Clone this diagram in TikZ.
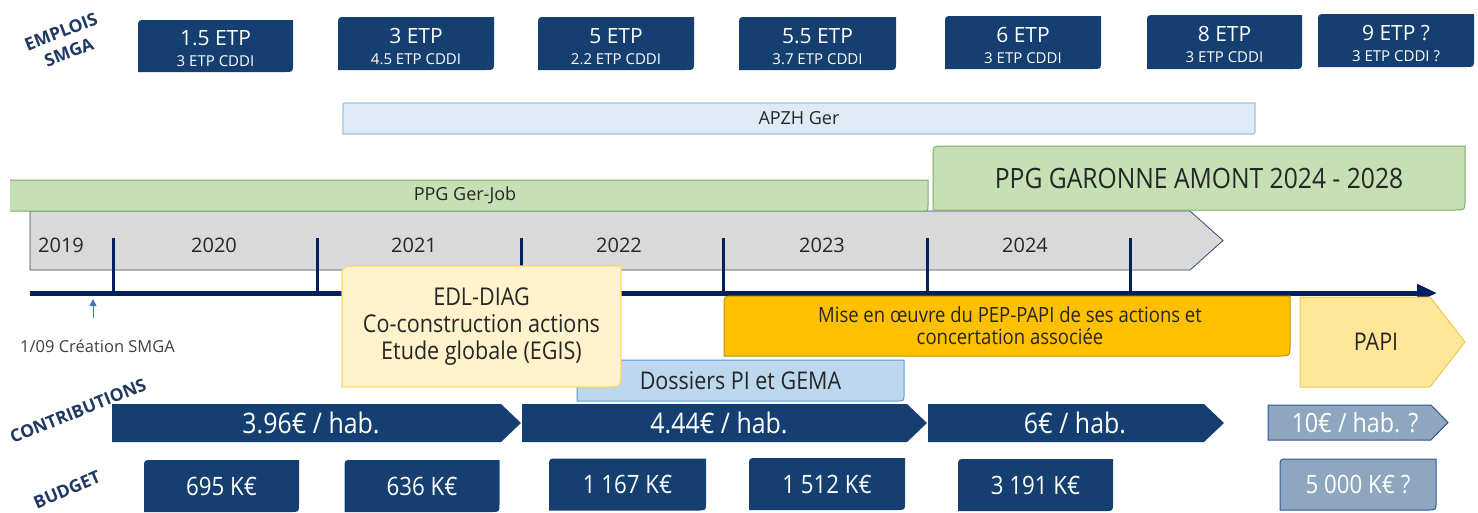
\documentclass[tikz,border=0pt]{standalone}
\usepackage{fontspec}
\setmainfont{Open Sans}
\newfontfamily\condf[FakeStretch=0.88]{Open Sans}
\usetikzlibrary{calc,arrows.meta}
\pgfdeclarelayer{bg}
\pgfsetlayers{bg,main}
\definecolor{navy}{RGB}{21,63,112}
\definecolor{labc}{RGB}{31,56,100}
\definecolor{axisc}{RGB}{0,32,96}
\definecolor{greyf}{RGB}{217,217,217}
\definecolor{greyb}{RGB}{52,75,110}
\definecolor{greenf}{RGB}{197,224,180}
\definecolor{greenb}{RGB}{130,168,100}
\definecolor{lbluef}{RGB}{222,235,247}
\definecolor{lblueb}{RGB}{157,195,230}
\definecolor{dblf}{RGB}{189,215,238}
\definecolor{dblb}{RGB}{91,155,213}
\definecolor{edlf}{RGB}{255,242,204}
\definecolor{edlb}{RGB}{255,217,102}
\definecolor{misef}{RGB}{255,192,0}
\definecolor{miseb}{RGB}{191,144,0}
\definecolor{papif}{RGB}{255,230,153}
\definecolor{papib}{RGB}{240,200,80}
\definecolor{fadef}{RGB}{143,166,191}
\definecolor{fadeb}{RGB}{47,85,151}
\definecolor{ytext}{RGB}{38,38,38}
\definecolor{smalltext}{RGB}{64,64,64}
\definecolor{smallarrow}{RGB}{68,114,196}
\newcommand\setfs[1]{\fontsize{#1pt}{#1pt}\selectfont}
\newcommand\setfsb[2]{\fontsize{#1pt}{#2pt}\selectfont}
\newcommand\dshape[3]{%
 \begin{pgfonlayer}{bg}
 \path[#1] (#2.south west) -- ($(#2.north west)+(0,#3)$) .. controls (#2.north west) .. ($(#2.north west)+(#3,0)$) -- (#2.north east) -- ($(#2.south east)+(0,-#3)$) .. controls (#2.south east) .. ($(#2.south east)+(-#3,0)$) -- cycle;
 \end{pgfonlayer}}
\newcommand\chev[3]{%
 \begin{pgfonlayer}{bg}
 \path[#1] (#2.north west) -- ($(#2.north east)+(-#3,0)$) -- (#2.east) -- ($(#2.south east)+(-#3,0)$) -- (#2.south west) -- cycle;
 \end{pgfonlayer}}
\tikzset{
 bx/.style={inner sep=0pt, outer sep=0pt, align=center},
 etp/.style={bx, text=white, minimum width=155pt, minimum height=52pt, font=\setfsb{21}{21}, text height=41pt, text depth=0pt},
 bud/.style={bx, text=white, minimum width=155pt, minimum height=52pt, font=\condf\setfs{25.3}},
 con/.style={bx, text=white, minimum height=38pt, font=\condf\setfs{28.3}},
 yr/.style={bx, text=ytext, font=\setfs{20}},
 lbl/.style={bx, text=labc, font=\bfseries\setfsb{17.5}{22}},
 navyfill/.style={fill=navy},
 tick/.style={draw=axisc, line width=3pt},
}
\newcommand\etptext[2]{#1\\{\setfs{15}#2}}
\begin{document}
\begin{tikzpicture}[x=1pt,y=-1pt]
\useasboundingbox (0,0) rectangle (1478,512);
% ---- gray year arrow
\node[bx, minimum width=1193pt, minimum height=59pt] (yarrow) at (626.5,240.5) {};
\chev{fill=greyf, draw=greyb, line width=0.8pt}{yarrow}{33}
\node[yr] (y19) at (61,245) {2019};
\node[yr] (y20) at (214,245) {2020};
\node[yr] (y21) at (414,245) {2021};
\node[yr] (y22) at (619,245) {2022};
\node[yr] (y23) at (822,245) {2023};
\node[yr] (y24) at (1025,245) {2024};
\begin{pgfonlayer}{bg}
\foreach \tx in {113,317,521,723,927,1130} \draw[tick] (\tx,238) -- (\tx,293);
\end{pgfonlayer}
% ---- PPG Ger-Job
\node[bx, minimum width=918pt, minimum height=31pt, font=\setfs{18}, text=ytext] (gj) at (469,195.5) {\hspace*{-8pt}PPG Ger-Job};
\begin{pgfonlayer}{bg}
\fill[greenf] (gj.north west) -- (gj.north east) -- ($(gj.south east)+(0,-5)$) .. controls (gj.south east) .. ($(gj.south east)+(-5,0)$) -- (gj.south west) -- cycle;
\draw[greenb, line width=1pt] (gj.north west) -- (gj.north east) -- ($(gj.south east)+(0,-5)$) .. controls (gj.south east) .. ($(gj.south east)+(-5,0)$) -- (gj.south west);
\end{pgfonlayer}
% ---- PPG Garonne
\node[bx, minimum width=532pt, minimum height=64pt, font=\condf\setfs{28}, text=ytext] (pga) at (1199,178) {PPG GARONNE AMONT 2024 - 2028};
\dshape{fill=greenf, draw=greenb, line width=1pt}{pga}{10}
% ---- APZH
\node[bx, minimum width=912pt, minimum height=31pt, font=\setfs{18}, text=ytext] (apzh) at (799,118.5) {APZH Ger};
\dshape{fill=lbluef, draw=lblueb, line width=1.2pt}{apzh}{4}
% ---- axis
\coordinate (ax0) at (30,293);
\coordinate (ax1) at (1437,293);
\begin{pgfonlayer}{bg}
\draw[axisc, line width=5pt, -{Triangle[length=20pt,width=17pt]}] (ax0) -- (ax1);
\end{pgfonlayer}
% ---- creation label
\node[bx, text=smalltext, font=\setfs{16.5}] (crea) at (97.5,346) {1/09 Création SMGA};
\coordinate (crt) at (93,299);
\coordinate (crb) at (93,318);
\draw[smallarrow, line width=1pt, -{Triangle[length=7pt,width=7pt]}] (crb) -- (crt);
% ---- Mise en oeuvre
\node[bx, minimum width=566pt, minimum height=60pt, font=\condf\setfsb{21}{22}, text=ytext] (mise) at (1007,326) {\hspace*{6pt}Mise en œuvre du PEP-PAPI de ses actions et\\\hspace*{6pt}concertation associée};
\dshape{fill=misef, draw=miseb, line width=1pt}{mise}{10}
% ---- PAPI
\node[bx, minimum width=165pt, minimum height=90pt, font=\condf\setfs{24.4}, text=ytext] (papi) at (1382.5,342) {\hspace*{-13pt}PAPI};
\chev{fill=papif, draw=papib, line width=1pt}{papi}{35}
% ---- Dossiers
\node[bx, minimum width=327pt, minimum height=41pt, font=\condf\setfs{24.4}, text=ytext] (doss) at (740.5,380.5) {Dossiers PI et GEMA};
\dshape{fill=dblf, draw=dblb, line width=1pt}{doss}{7}
% ---- EDL
\node[bx, minimum width=279pt, minimum height=121pt, font=\condf\setfsb{24.5}{27}, text=ytext] (edl) at (481.5,326.5) {EDL-DIAG\\Co-construction actions\\Etude globale (EGIS)};
\dshape{fill=edlf, draw=edlb, line width=1.2pt}{edl}{16}
% ---- contributions
\node[con, minimum width=409pt] (c1) at (316.5,423) {\hspace*{-11pt}3.96€ / hab.};
\chev{navyfill}{c1}{20}
\node[con, minimum width=405pt] (c2) at (724.5,423) {\hspace*{-11pt}4.44€ / hab.};
\chev{navyfill}{c2}{20}
\node[con, minimum width=296pt] (c3) at (1076,423) {\hspace*{-2pt}6€ / hab.};
\chev{navyfill}{c3}{20}
\node[con, minimum width=180pt, minimum height=35pt, font=\condf\setfs{26.5}] (c4) at (1358,422.5) {\hspace*{-6pt}10€ / hab. ?};
\chev{fill=fadef, draw=fadeb, line width=1pt}{c4}{17}
% ---- budgets
\node[bud] (b1) at (221.5,486) {695 K€};
\dshape{navyfill}{b1}{8}
\node[bud] (b2) at (422,486) {636 K€};
\dshape{navyfill}{b2}{8}
\node[bud, minimum width=157pt] (b3) at (627.5,484.5) {1 167 K€};
\dshape{navyfill}{b3}{8}
\node[bud, minimum width=156pt] (b4) at (827,484) {1 512 K€};
\dshape{navyfill}{b4}{8}
\node[bud] (b5) at (1035.5,485) {3 191 K€};
\dshape{navyfill}{b5}{8}
\node[bud, minimum width=156pt, minimum height=51pt] (b6) at (1358,484.5) {5 000 K€ ?};
\dshape{fill=fadef, draw=fadeb, line width=1pt}{b6}{8}
% ---- ETP boxes
\node[etp] (e1) at (215.5,46) {\etptext{1.5 ETP}{3 ETP CDDI}};
\dshape{navyfill}{e1}{8}
\node[etp, minimum width=156pt, minimum height=53pt] (e2) at (416,43.5) {\etptext{3 ETP}{4.5 ETP CDDI}};
\dshape{navyfill}{e2}{8}
\node[etp, minimum width=156pt, minimum height=53pt] (e3) at (616,43.5) {\etptext{5 ETP}{2.2 ETP CDDI}};
\dshape{navyfill}{e3}{8}
\node[etp, minimum width=157pt, minimum height=53pt] (e4) at (817.5,43.5) {\etptext{5.5 ETP}{3.7 ETP CDDI}};
\dshape{navyfill}{e4}{8}
\node[etp, minimum width=156pt, minimum height=53pt] (e5) at (1023,42.5) {\etptext{6 ETP}{3 ETP CDDI}};
\dshape{navyfill}{e5}{8}
\node[etp, minimum width=155pt, minimum height=54pt] (e6) at (1224.5,42) {\etptext{8 ETP}{3 ETP CDDI}};
\dshape{navyfill}{e6}{8}
\node[etp, minimum width=156pt, minimum height=53pt] (e7) at (1396,40.5) {\etptext{9 ETP ?}{3 ETP CDDI ?}};
\dshape{navyfill}{e7}{8}
% ---- side labels
\node[lbl, rotate=21] (lemp) at (65,42) {EMPLOIS\\SMGA};
\node[lbl, rotate=22] (lcon) at (78,411) {CONTRIBUTIONS};
\node[lbl, rotate=23] (lbud) at (67,490) {BUDGET};
\end{tikzpicture}
\end{document}
